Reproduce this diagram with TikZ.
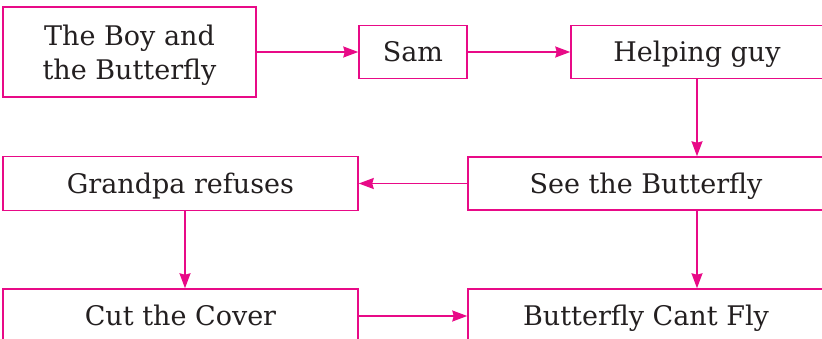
\documentclass[tikz,border=0pt]{standalone}
\usepackage{fontspec}
\setmainfont{DejaVu Serif}
\usetikzlibrary{arrows.meta}
\definecolor{pk}{RGB}{232,10,135}
\definecolor{tx}{RGB}{35,31,32}
\begin{document}
\begin{tikzpicture}[x=1pt,y=-1pt,
  box/.style={draw=pk,line width=1.5pt,text=tx,inner sep=0pt,align=center,font=\fontsize{27}{34}\selectfont},
  onebox/.style={box,text height=24pt,text depth=4.5pt},
  link/.style={draw=pk,line width=1.5pt,-{Stealth[length=15pt,width=11pt,inset=1.5pt]}}]
\useasboundingbox (0,0) rectangle (822,339);
\clip (0,0) rectangle (822,339);
\node[box,minimum width=253pt,minimum height=90pt] (boy) at (129.5,52) {\rule{0pt}{30pt}The Boy and\\the Butterfly\rule[-8pt]{0pt}{8pt}};
\node[onebox,minimum width=108pt,minimum height=53pt] (sam) at (413,52) {Sam};
\node[onebox,minimum width=252pt,minimum height=53pt] (help) at (697,52) {Helping guy};
\node[onebox,minimum width=356pt,minimum height=53pt] (see) at (646,183.5) {See the Butterfly};
\node[onebox,minimum width=355pt,minimum height=54pt] (grand) at (180.5,183.5) {Grandpa refuses};
\node[onebox,minimum width=355pt,minimum height=54pt] (cut) at (180.5,316) {Cut the Cover};
\node[onebox,minimum width=356pt,minimum height=54pt] (fly) at (646,316) {Butterfly Cant Fly};
\draw[link] (boy.east) -- (sam.west);
\draw[link] (sam.east) -- (help.west);
\draw[link] (help.south) -- (help.south |- see.north);
\draw[link] (see.west) -- (grand.east);
\draw[link] ([xshift=4.5pt]grand.south) -- ([xshift=4.5pt]grand.south |- cut.north);
\draw[link] (cut.east) -- (fly.west);
\draw[link] (see.south -| help.south) -- (help.south |- fly.north);
\end{tikzpicture}
\end{document}
